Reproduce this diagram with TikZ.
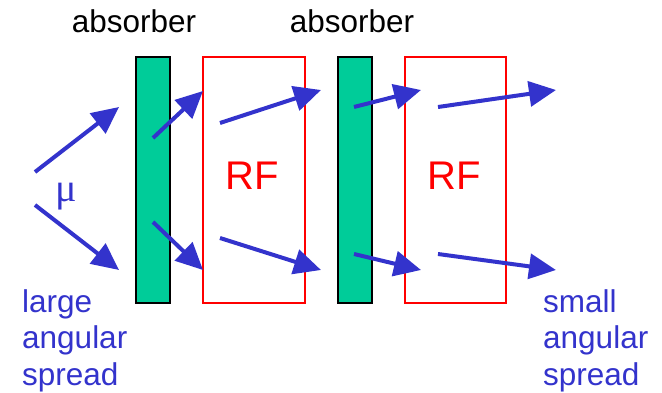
\documentclass[tikz,border=0pt]{standalone}
\usepackage{fontspec}
\setmainfont{Liberation Sans}
\newfontfamily\symfont{Liberation Serif}
\usetikzlibrary{arrows.meta}
\definecolor{beamblue}{HTML}{3333CC}
\definecolor{absgreen}{HTML}{00CC99}
\tikzset{
  absorberbox/.style={draw=black, line width=1.5pt, fill=absgreen},
  rfbox/.style={draw=red, line width=1.5pt},
  ray/.style={draw=beamblue, line width=4pt, -{Triangle[length=27pt,width=25pt]}},
  lbl/.style={font=\fontsize{31.5}{38}\selectfont, inner sep=0pt, anchor=base},
  bluelbl/.style={font=\fontsize{31.5}{38}\selectfont, text=beamblue, inner sep=0pt, anchor=base west},
  rflbl/.style={font=\fontsize{40}{48}\selectfont, text=red, inner sep=0pt, anchor=base}
}
\begin{document}
\begin{tikzpicture}[x=1pt, y=-1pt]
\useasboundingbox (0,0) rectangle (662,393);

% absorbers and RF cavities
\draw[absorberbox] (136,57) rectangle (170,303);
\draw[rfbox] (203,57) rectangle (305,303);
\draw[absorberbox] (338,57) rectangle (372,303);
\draw[rfbox] (405,57) rectangle (506,303);

% labels
\node[lbl] (abs1) at (134,33) {absorber};
\node[lbl] (abs2) at (352,33) {absorber};
\node[rflbl] (rf1) at (252,190) {RF};
\node[rflbl] (rf2) at (454,190) {RF};
\node[font=\symfont\fontsize{40}{48}\selectfont, text=beamblue, inner sep=0pt, anchor=base] (mu) at (66,202) {μ};
\node[bluelbl] (l1) at (22,312) {large};
\node[bluelbl] (l2) at (22,348.5) {angular};
\node[bluelbl] (l3) at (22,385) {spread};
\node[bluelbl] (s1) at (543,312) {small};
\node[bluelbl] (s2) at (543,348.5) {angular};
\node[bluelbl] (s3) at (543,385) {spread};

% ray end points
\coordinate (a1s) at (35,172);  \coordinate (a1e) at (119,107);
\coordinate (a2s) at (35,205);  \coordinate (a2e) at (119,270);
\coordinate (b1s) at (153,138); \coordinate (b1e) at (203,91);
\coordinate (b2s) at (153,222); \coordinate (b2e) at (203,270);
\coordinate (c1s) at (220,123); \coordinate (c1e) at (321,90);
\coordinate (c2s) at (220,238); \coordinate (c2e) at (321,270);
\coordinate (d1s) at (354,107); \coordinate (d1e) at (421,90);
\coordinate (d2s) at (354,254); \coordinate (d2e) at (421,270);
\coordinate (e1s) at (438,107); \coordinate (e1e) at (556,90);
\coordinate (e2s) at (438,254); \coordinate (e2e) at (556,270);

% muon rays
\foreach \r in {a1,a2,b1,b2,c1,c2,d1,d2,e1,e2}
  \draw[ray] (\r s) -- (\r e);
\end{tikzpicture}
\end{document}
